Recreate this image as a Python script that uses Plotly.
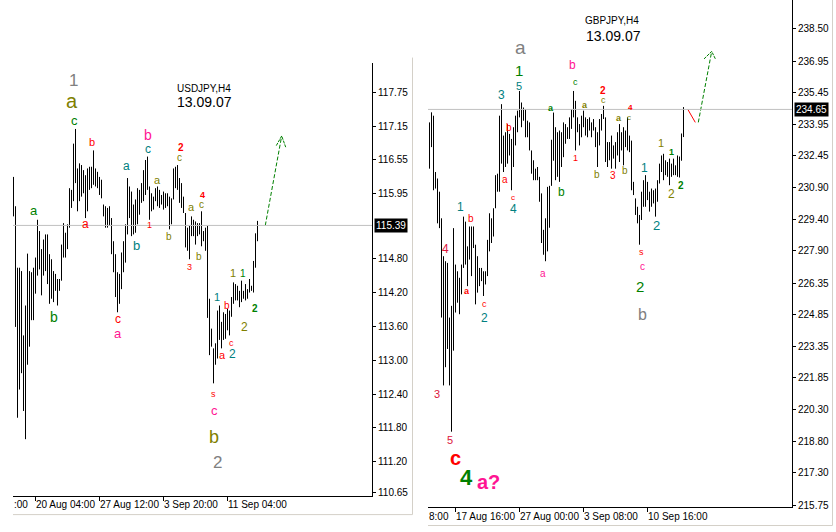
import plotly.graph_objects as go

W, H = 836, 532

# ---------------- USDJPY H4 (bar index 0..122) ----------------
usd_high = [116.25, 115.73, 114.64, 114.64, 114.58, 113.44, 113.97, 114.89, 114.58, 114.56,
            114.64, 114.82, 115.49, 115.29, 114.97, 115.14, 115.23, 115.23, 114.88, 114.79,
            114.58, 114.53, 114.44, 114.44, 115.05, 115.43, 115.26, 115.41, 116.05, 116.02,
            116.84, 117.10, 116.40, 116.49, 116.46, 116.37, 116.28, 116.40, 116.43, 116.43,
            116.72, 116.40, 116.34, 116.25, 116.20, 115.76, 115.73, 115.70, 115.73, 115.52,
            115.11, 114.88, 114.56, 114.53, 114.91, 115.11, 115.41, 116.23, 116.08, 115.99,
            115.76, 115.85, 116.05, 116.02, 116.14, 116.37, 116.55, 116.61, 116.08, 115.96,
            115.90, 116.05, 116.08, 116.02, 115.93, 115.99, 115.96, 115.96, 115.90, 115.87,
            116.40, 116.43, 116.46, 116.23, 116.14, 115.90, 115.61, 115.35, 115.38, 115.55,
            115.49, 115.46, 115.43, 115.43, 115.64, 115.29, 115.35, 115.38, 114.09, 113.56,
            113.21, 113.30, 113.88, 113.97, 113.68, 113.85, 113.82, 113.91, 113.88, 114.12,
            114.38, 114.35, 114.32, 114.23, 114.41, 114.23, 114.35, 114.26, 114.44, 114.32,
            114.76, 115.25, 115.47]
usd_low = [115.55, 113.59, 111.98, 112.48, 112.77, 112.10, 111.60, 112.92, 113.24, 113.71,
           113.71, 114.18, 114.50, 114.61, 114.15, 114.50, 114.58, 114.35, 114.00, 114.09,
           114.03, 114.23, 113.97, 114.23, 114.41, 114.82, 114.82, 114.97, 115.35, 115.70,
           115.82, 116.14, 115.64, 115.82, 115.90, 115.96, 115.52, 115.64, 116.02, 116.05,
           116.11, 116.08, 116.05, 115.93, 115.87, 115.55, 115.35, 115.35, 115.38, 114.88,
           114.56, 114.12, 113.85, 114.00, 114.26, 114.56, 114.73, 115.23, 115.52, 115.20,
           115.23, 115.26, 115.41, 115.58, 115.79, 115.82, 115.93, 116.02, 115.49, 115.64,
           115.67, 115.82, 115.73, 115.70, 115.76, 115.67, 115.70, 115.73, 115.32, 115.41,
           115.85, 116.05, 116.02, 115.79, 115.70, 115.61, 115.00, 114.94, 114.79, 115.20,
           115.20, 115.05, 115.20, 115.23, 115.02, 115.11, 114.94, 113.75, 113.09, 113.24,
           112.59, 112.92, 113.03, 113.36, 113.21, 113.36, 113.38, 113.53, 113.44, 113.77,
           114.00, 114.06, 114.06, 113.94, 114.03, 114.09, 114.06, 114.09, 114.20, 114.23,
           114.20, 114.64, 115.11]
usd_last = 115.39
usd_yticks = [117.75, 117.15, 116.55, 115.95, 114.80, 114.20, 113.60, 113.00,
              112.40, 111.80, 111.20, 110.65]
usd_xtick_idx = [11, 43, 75, 107]
usd_xtick_text = ["20 Aug 04:00", "27 Aug 12:00", "3 Sep 20:00", "11 Sep 04:00"]
usd_xtick_clipped = ":00"

# ---------------- GBPJPY H4 (bar index 0..127) ----------------
gbp_high = [234.03, 234.51, 234.35, 231.66, 231.35, 230.72, 229.45, 227.64, 227.40, 227.32,
            224.71, 225.27, 228.98, 227.24, 226.92, 226.61, 227.24, 229.53, 229.29, 228.11,
            229.06, 229.06, 229.06, 228.19, 227.64, 227.08, 227.08, 226.92, 226.92, 228.42,
            229.69, 229.45, 229.93, 231.51, 231.58, 234.35, 234.90, 233.40, 233.56, 233.95,
            233.48, 233.24, 233.80, 234.35, 234.59, 235.53, 234.98, 234.74, 234.67, 234.11,
            234.03, 232.69, 232.22, 231.82, 231.90, 231.43, 230.64, 228.90, 229.45, 230.95,
            231.00, 233.20, 234.50, 233.80, 233.56, 233.64, 233.56, 234.03, 233.95, 233.80,
            234.27, 234.67, 235.53, 235.06, 234.27, 233.95, 234.35, 234.59, 234.27, 234.19,
            234.27, 234.03, 234.19, 233.80, 233.56, 234.19, 234.43, 234.82, 234.27, 233.09,
            233.09, 233.40, 232.93, 233.09, 233.56, 233.95, 233.56, 233.80, 233.64, 234.27,
            233.40, 233.16, 231.19, 230.40, 230.00, 229.61, 230.72, 231.27, 231.51, 231.19,
            230.72, 230.87, 230.79, 230.87, 231.27, 232.06, 232.45, 232.53, 232.22, 232.14,
            232.30, 232.06, 232.30, 231.98, 232.45, 232.40, 233.50, 234.76]
gbp_low = [231.82, 232.85, 230.79, 230.87, 229.21, 228.98, 224.71, 221.47, 222.34, 223.21,
           221.47, 219.26, 223.13, 224.95, 225.42, 224.87, 225.82, 227.08, 227.24, 226.21,
           227.48, 226.69, 228.03, 225.34, 225.90, 226.21, 226.45, 225.74, 226.29, 226.69,
           227.87, 228.27, 228.58, 229.93, 230.72, 230.72, 232.06, 231.66, 231.90, 232.06,
           232.45, 230.79, 231.90, 232.93, 233.56, 234.27, 233.80, 234.11, 233.32, 233.32,
           232.69, 231.58, 231.27, 231.27, 231.27, 230.24, 228.27, 227.71, 227.40, 227.87,
           229.00, 231.00, 232.20, 231.27, 231.43, 231.19, 231.90, 232.37, 233.01, 233.24,
           233.24, 233.72, 234.27, 232.69, 233.56, 232.93, 233.32, 233.80, 233.40, 233.32,
           233.64, 233.32, 233.64, 232.85, 231.90, 232.93, 233.64, 234.19, 232.14, 231.90,
           232.22, 231.82, 232.30, 231.82, 232.45, 232.14, 232.69, 231.98, 232.85, 232.69,
           232.61, 230.79, 230.56, 229.61, 229.21, 228.19, 229.37, 230.00, 230.00, 230.32,
           229.77, 230.00, 230.16, 229.53, 230.24, 231.11, 231.66, 231.27, 231.51, 231.43,
           231.03, 231.43, 231.51, 231.51, 231.43, 231.40, 232.20, 233.33]
gbp_last = 234.65
gbp_yticks = [238.50, 236.95, 235.45, 233.95, 232.45, 230.90, 229.40, 227.90, 226.35,
              224.85, 223.35, 221.85, 220.30, 218.80, 217.30, 215.75]
gbp_xtick_idx = [13, 45, 77, 109]
gbp_xtick_text = ["17 Aug 16:00", "27 Aug 00:00", "3 Sep 08:00", "10 Sep 16:00"]
gbp_xtick_clipped = "8:00"

# ---------------- styling ----------------
FONT = "Liberation Sans, Arial, sans-serif"
GRAY, OLIVE, GREEN, RED = "#808080", "#808000", "#008000", "#FF0000"
TEAL, PINK, CRIMSON, BLACK = "#008080", "#FF1493", "#DC143C", "#000000"


def px(x):
    return x / W


def py(y):
    return 1 - y / H


def bar_xy(highs, lows):
    xs, ys = [], []
    for i, (h, l) in enumerate(zip(highs, lows)):
        xs += [i, i, None]
        ys += [l, h, None]
    return xs, ys


fig = go.Figure()

ux, uy = bar_xy(usd_high, usd_low)
fig.add_trace(go.Scatter(x=ux, y=uy, mode="lines", line=dict(color="black", width=1),
                         xaxis="x", yaxis="y", hoverinfo="skip"))
gx, gy = bar_xy(gbp_high, gbp_low)
fig.add_trace(go.Scatter(x=gx, y=gy, mode="lines", line=dict(color="black", width=1),
                         xaxis="x2", yaxis="y2", hoverinfo="skip"))

# projection arrows (green dashed) and red correction stroke
fig.add_trace(go.Scatter(x=[125.9, 134.1], y=[usd_last, 116.976], mode="lines",
                         line=dict(color=GREEN, width=1, dash="4px,2px"),
                         xaxis="x", yaxis="y", hoverinfo="skip"))
fig.add_trace(go.Scatter(x=[131.4, 134.1, 136.1], y=[116.805, 116.976, 116.777], mode="lines",
                         line=dict(color=GREEN, width=1, dash="3px,1px"),
                         xaxis="x", yaxis="y", hoverinfo="skip"))
fig.add_trace(go.Scatter(x=[129.1, 132.9], y=[234.66, 234.03], mode="lines",
                         line=dict(color=RED, width=1),
                         xaxis="x2", yaxis="y2", hoverinfo="skip"))
fig.add_trace(go.Scatter(x=[134.4, 141.1], y=[234.03, 237.42], mode="lines",
                         line=dict(color=GREEN, width=1, dash="4px,2px"),
                         xaxis="x2", yaxis="y2", hoverinfo="skip"))
fig.add_trace(go.Scatter(x=[137.25, 141.1, 143.1], y=[237.06, 237.42, 237.03], mode="lines",
                         line=dict(color=GREEN, width=1, dash="3px,1px"),
                         xaxis="x2", yaxis="y2", hoverinfo="skip"))

# axis ranges derived from the pixel calibration of the price scales
usd_range = [117.75 - 407 / 56.83, 117.75 + 30 / 56.83]
gbp_range = [238.50 - 482 / 21.1, 238.50 + 29 / 21.1]

axis_common = dict(showgrid=False, zeroline=False, showline=True, linecolor="black",
                   linewidth=1, ticks="outside", tickcolor="black", tickwidth=1)

fig.update_layout(
    width=W, height=H, margin=dict(l=0, r=0, t=0, b=0),
    paper_bgcolor="white", plot_bgcolor="white", showlegend=False,
    xaxis=dict(domain=[px(13), px(372)], range=[-0.25, 179.25], anchor="y",
               tickvals=usd_xtick_idx, showticklabels=False, ticklen=4, **axis_common),
    yaxis=dict(domain=[py(500), py(63)], range=usd_range, anchor="x", side="right",
               tickvals=usd_yticks, ticktext=[f"{v:.2f}" for v in usd_yticks], ticklen=3,
               tickfont=dict(family=FONT, size=10, color="black"), **axis_common),
    xaxis2=dict(domain=[px(428), px(792)], range=[-0.75, 181.25], anchor="y2",
                tickvals=gbp_xtick_idx, showticklabels=False, ticklen=4, **axis_common),
    yaxis2=dict(domain=[py(511), 1.0], range=gbp_range, anchor="x2", side="right",
                tickvals=gbp_yticks, ticktext=[f"{v:.2f}" for v in gbp_yticks], ticklen=3,
                tickfont=dict(family=FONT, size=10, color="black"), **axis_common),
)

shapes = [
    # current price lines
    dict(type="line", xref="x domain", yref="y", x0=0, x1=1, y0=usd_last, y1=usd_last,
         line=dict(color="#C0C0C0", width=1)),
    dict(type="line", xref="x2 domain", yref="y2", x0=0, x1=1, y0=gbp_last, y1=gbp_last,
         line=dict(color="#C0C0C0", width=1)),
    # window frames
    dict(type="line", xref="paper", yref="paper", x0=px(412.5), x1=px(412.5), y0=py(58), y1=py(518.5),
         line=dict(color="#D4D0C8", width=1)),
    dict(type="line", xref="paper", yref="paper", x0=px(13), x1=px(412.5), y0=py(518.5), y1=py(518.5),
         line=dict(color="#D4D0C8", width=1)),
    dict(type="line", xref="paper", yref="paper", x0=px(832.5), x1=px(832.5), y0=1, y1=py(529.5),
         line=dict(color="#D4D0C8", width=1)),
    dict(type="line", xref="paper", yref="paper", x0=px(428), x1=px(832.5), y0=py(529.5), y1=py(529.5),
         line=dict(color="#D4D0C8", width=1)),
]
fig.update_layout(shapes=shapes)

ann = []


def label(x, y, text, color, size, bold=False):
    t = f"<b>{text}</b>" if bold else text
    ann.append(dict(x=px(x), y=py(y), xref="paper", yref="paper", text=t, showarrow=False,
                    xanchor="center", yanchor="middle",
                    font=dict(family=FONT, size=size, color=color)))


# x-axis time labels
for i, t in zip(usd_xtick_idx, usd_xtick_text):
    ann.append(dict(x=i, y=py(508), xref="x", yref="paper", text=t, showarrow=False,
                    xanchor="left", yanchor="middle", xshift=-2,
                    font=dict(family=FONT, size=10, color="black")))
for i, t in zip(gbp_xtick_idx, gbp_xtick_text):
    ann.append(dict(x=i, y=py(520), xref="x2", yref="paper", text=t, showarrow=False,
                    xanchor="left", yanchor="middle", xshift=-2,
                    font=dict(family=FONT, size=10, color="black")))
ann.append(dict(x=px(12), y=py(508), xref="paper", yref="paper", text=usd_xtick_clipped,
                showarrow=False, xanchor="left", yanchor="middle",
                font=dict(family=FONT, size=10, color="black")))
ann.append(dict(x=px(427), y=py(520), xref="paper", yref="paper", text=gbp_xtick_clipped,
                showarrow=False, xanchor="left", yanchor="middle",
                font=dict(family=FONT, size=10, color="black")))

# last price boxes
ann.append(dict(x=px(374), y=usd_last, xref="paper", yref="y", text=f"{usd_last:.2f}",
                showarrow=False, xanchor="left", yanchor="middle", bgcolor="black", borderpad=1,
                font=dict(family=FONT, size=10, color="white")))
ann.append(dict(x=px(794), y=gbp_last, xref="paper", yref="y2", text=f"{gbp_last:.2f}",
                showarrow=False, xanchor="left", yanchor="middle", bgcolor="black", borderpad=1,
                font=dict(family=FONT, size=10, color="white")))

# titles
label(204, 89, "USDJPY,H4", BLACK, 10)
label(204, 103, "13.09.07", BLACK, 14)
label(612, 21, "GBPJPY,H4", BLACK, 10)
label(613, 36, "13.09.07", BLACK, 14)

# USDJPY wave labels
for args in [
    (73, 81, "1", GRAY, 17), (72, 102, "a", OLIVE, 20), (74, 121, "c", GREEN, 13),
    (92, 143, "b", RED, 11), (126, 167, "a", TEAL, 12), (148, 136, "b", PINK, 14),
    (148, 150, "c", TEAL, 12), (181, 149, "2", RED, 10, True), (179, 159, "c", OLIVE, 10),
    (157, 181, "a", OLIVE, 11), (34, 212, "a", GREEN, 13), (85, 226, "a", RED, 12),
    (149, 227, "1", RED, 9), (136, 247, "b", TEAL, 13), (169, 238, "b", OLIVE, 10),
    (202, 196, "4", RED, 9, True), (201, 206, "c", OLIVE, 10), (191, 209, "a", OLIVE, 11),
    (199, 258, "b", OLIVE, 10), (189, 269, "3", RED, 9), (54, 319, "b", GREEN, 14),
    (118, 321, "c", RED, 12), (118, 336, "a", PINK, 13), (217, 299, "1", TEAL, 11),
    (227, 308, "b", RED, 10), (231, 346, "c", RED, 9), (223, 358, "a", RED, 11),
    (232, 357, "2", TEAL, 12), (233, 275, "1", OLIVE, 11), (243, 276, "1", GREEN, 10),
    (244, 329, "2", OLIVE, 12), (255, 311, "2", GREEN, 10, True), (213, 397, "s", RED, 9),
    (214, 414, "c", PINK, 13), (214, 440, "b", OLIVE, 18), (217, 466, "2", GRAY, 17),
]:
    label(*args)

# GBPJPY wave labels
for args in [
    (520, 48, "a", GRAY, 19), (519, 71, "1", GREEN, 15), (519, 87, "5", TEAL, 11),
    (501, 96, "3", TEAL, 12), (572, 65, "b", PINK, 12), (575, 83, "c", GREEN, 9),
    (603, 91, "2", RED, 10, True), (603, 101, "c", OLIVE, 9), (551, 109, "a", GREEN, 9, True),
    (585, 106, "a", OLIVE, 9, True), (630, 108, "4", RED, 8, True), (619, 119, "a", OLIVE, 9, True),
    (629, 118, "c", OLIVE, 8), (509, 128, "b", RED, 10), (505, 181, "a", RED, 10),
    (513, 199, "c", RED, 8), (513, 211, "4", TEAL, 12), (575, 159, "1", RED, 9),
    (597, 176, "b", OLIVE, 10), (613, 177, "3", RED, 10), (625, 172, "b", OLIVE, 10),
    (561, 193, "b", GREEN, 12), (644, 169, "1", TEAL, 12), (656, 227, "2", TEAL, 13),
    (661, 144, "1", OLIVE, 11), (671, 153, "1", GREEN, 9, True), (671, 195, "2", OLIVE, 12),
    (681, 187, "2", GREEN, 10, True), (641, 254, "s", RED, 9), (460, 209, "1", TEAL, 12),
    (471, 220, "b", RED, 10), (446, 251, "4", CRIMSON, 12), (467, 293, "a", RED, 9, True),
    (485, 306, "c", RED, 9), (484, 320, "2", TEAL, 12), (543, 276, "a", PINK, 10),
    (642, 269, "c", PINK, 10), (640, 289, "2", GREEN, 15), (642, 317, "b", GRAY, 16),
    (437, 397, "3", CRIMSON, 11), (450, 443, "5", CRIMSON, 11), (455, 461, "c", RED, 20, True),
    (466, 481, "4", GREEN, 22, True), (488, 486, "a?", PINK, 20, True),
]:
    label(*args)

fig.update_layout(annotations=ann)

fig.write_html("out.html")
